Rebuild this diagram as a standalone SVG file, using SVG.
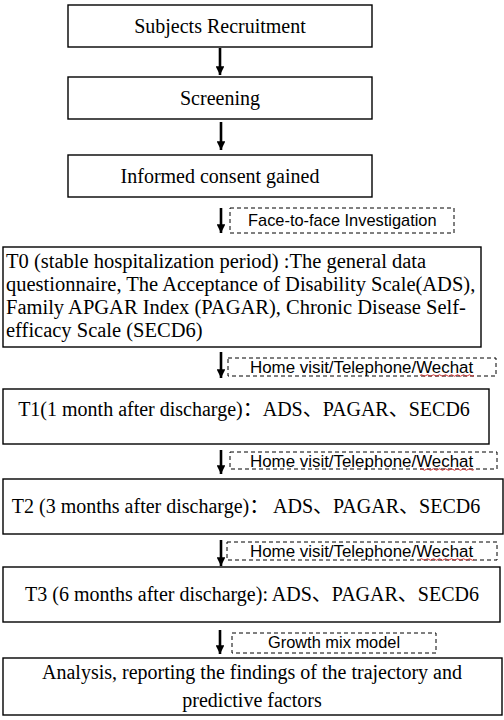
<svg xmlns="http://www.w3.org/2000/svg" width="504" height="720" viewBox="0 0 504 720">
<style>
.box{fill:#fff;stroke:#000;stroke-width:1.4}
.dash{fill:none;stroke:#000;stroke-width:1;stroke-dasharray:4,3}
.t{font-family:'Liberation Serif','Times New Roman',serif;font-size:20px;fill:#000}
.big{font-size:20.5px}
.k{font-family:'Liberation Serif','Noto Sans CJK SC',serif}
.s{font-family:'Liberation Sans',Arial,sans-serif;font-size:16.4px;fill:#000}
.h{font-size:16.9px}
.c{text-anchor:middle}
.arr{stroke:#000;stroke-width:2.6;fill:none}
.sq{fill:none;stroke:#d02020;stroke-width:0.9}
</style>
<defs>
<marker id="ah" viewBox="0 0 10 10" refX="10" refY="5" markerWidth="3.4" markerHeight="3.4" markerUnits="strokeWidth" orient="auto">
<path d="M0,0 L10,5 L0,10 z" fill="#000"/>
</marker>
</defs>
<rect width="504" height="720" fill="#fff"/>
<g id="connectors">
<line class="arr" x1="220" y1="48" x2="220" y2="75" marker-end="url(#ah)"/>
<line class="arr" x1="221" y1="122" x2="221" y2="150" marker-end="url(#ah)"/>
<line class="arr" x1="221" y1="208" x2="221" y2="233" marker-end="url(#ah)"/>
<line class="arr" x1="221" y1="352" x2="221" y2="378" marker-end="url(#ah)"/>
<line class="arr" x1="221" y1="450" x2="221" y2="474" marker-end="url(#ah)"/>
<line class="arr" x1="221" y1="540" x2="221" y2="566" marker-end="url(#ah)"/>
<line class="arr" x1="220" y1="630" x2="220" y2="654" marker-end="url(#ah)"/>
</g>
<g id="n1"><rect class="box" x="68" y="5" width="304" height="42"/><text class="t c" x="220" y="33">Subjects Recruitment</text></g>
<g id="n2"><rect class="box" x="68" y="77" width="304" height="42"/><text class="t c" x="220" y="105">Screening</text></g>
<g id="n3"><rect class="box" x="68" y="155" width="304" height="42"/><text class="t c" x="220" y="183">Informed consent gained</text></g>
<g id="l1"><rect class="dash" x="230" y="208" width="224" height="25"/><text class="s" x="248" y="226">Face-to-face Investigation</text></g>
<g id="n4"><rect class="box" x="3" y="247" width="478" height="100"/>
<text class="t big"><tspan x="6" y="268">T0 (stable hospitalization period) :The general data</tspan><tspan x="6" y="291">questionnaire, The Acceptance of Disability Scale(ADS),</tspan><tspan x="6" y="314">Family APGAR Index (PAGAR), Chronic Disease Self-</tspan><tspan x="6" y="337">efficacy Scale (SECD6)</tspan></text></g>
<g id="l2"><rect class="dash" x="228" y="358" width="268" height="18"/><text class="s h" x="250" y="373">Home visit/Telephone/Wechat</text><path class="sq" d="M420,375.5 q1.5,-1.5 3,0 t3,0 t3,0 t3,0 t3,0 t3,0 t3,0 t3,0 t3,0 t3,0 t3,0 t3,0 t3,0 t3,0 t3,0 t3,0 t3,0 t3,0"/></g>
<g id="n5"><rect class="box" x="3" y="389" width="486" height="55"/><text class="t c" x="244" y="416">T1(1 month after discharge)<tspan class="k">：</tspan>ADS<tspan class="k">、</tspan>PAGAR<tspan class="k">、</tspan>SECD6</text></g>
<g id="l3"><rect class="dash" x="230" y="452" width="267" height="17"/><text class="s h" x="250" y="467">Home visit/Telephone/Wechat</text><path class="sq" d="M420,469.5 q1.5,-1.5 3,0 t3,0 t3,0 t3,0 t3,0 t3,0 t3,0 t3,0 t3,0 t3,0 t3,0 t3,0 t3,0 t3,0 t3,0 t3,0 t3,0 t3,0"/></g>
<g id="n6"><rect class="box" x="3" y="479" width="500" height="55"/><text class="t c" x="246" y="513">T2 (3 months after discharge)<tspan class="k">：</tspan> ADS<tspan class="k">、</tspan>PAGAR<tspan class="k">、</tspan>SECD6</text></g>
<g id="l4"><rect class="dash" x="227" y="542" width="270" height="18"/><text class="s h" x="250" y="557">Home visit/Telephone/Wechat</text><path class="sq" d="M420,559.5 q1.5,-1.5 3,0 t3,0 t3,0 t3,0 t3,0 t3,0 t3,0 t3,0 t3,0 t3,0 t3,0 t3,0 t3,0 t3,0 t3,0 t3,0 t3,0 t3,0"/></g>
<g id="n7"><rect class="box" x="3" y="567" width="497" height="55"/><text class="t c" x="252" y="601">T3 (6 months after discharge): ADS<tspan class="k">、</tspan>PAGAR<tspan class="k">、</tspan>SECD6</text></g>
<g id="l5"><rect class="dash" x="232" y="633" width="204" height="20"/><text class="s c" x="334" y="648">Growth mix model</text></g>
<g id="n8"><rect class="box" x="3" y="658" width="499" height="57"/>
<text class="t c"><tspan x="252" y="679">Analysis, reporting the findings of the trajectory and</tspan><tspan x="252" y="707">predictive factors</tspan></text></g>
</svg>
